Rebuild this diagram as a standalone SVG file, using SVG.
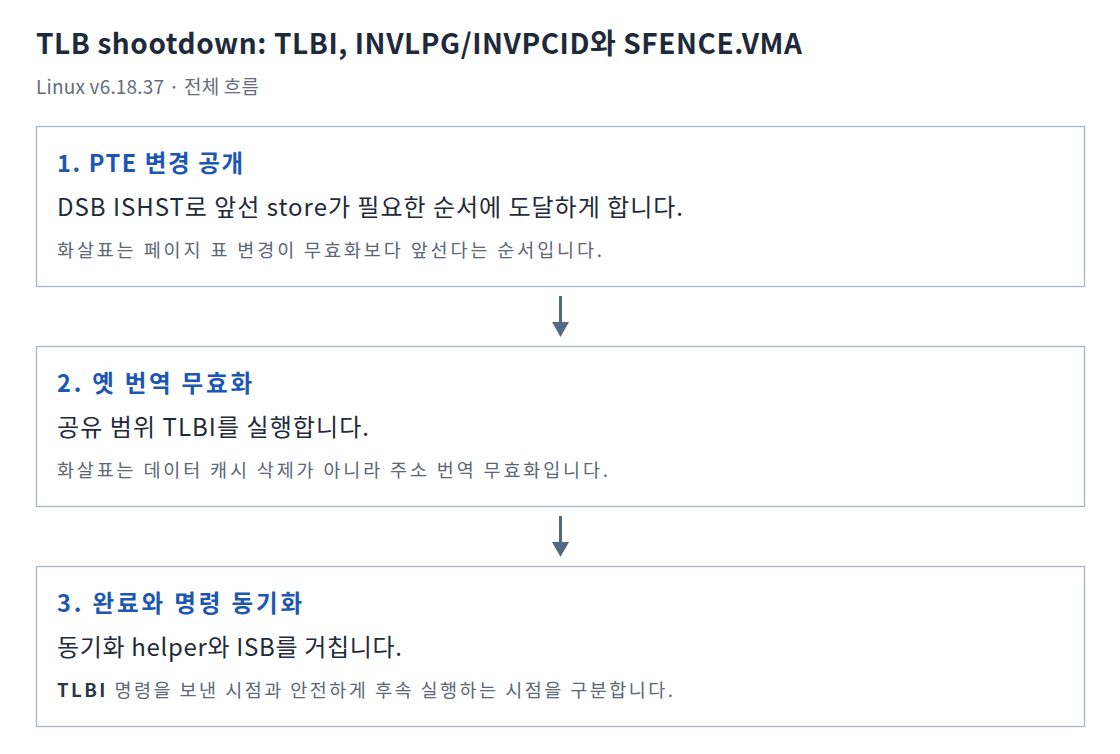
<svg xmlns="http://www.w3.org/2000/svg" width="1120" height="754" viewBox="0 0 1120 754">
<style>
text{font-family:"Noto Sans CJK KR","Noto Sans",sans-serif}
.title{font-size:28px;font-weight:700;fill:#1e2a3b}
.sub{font-size:19px;fill:#646d79}
.box{fill:#ffffff;stroke:#a8b4c4;stroke-width:1.3}
.h{font-size:23.5px;font-weight:700;fill:#1b57b3}
.m{font-size:24px;fill:#1f2a3a}
.n{font-size:18.5px;fill:#5d6674}
.k{fill:#2a3545;font-weight:600}
.c{stroke:#536a85;stroke-width:3;fill:none}
.ah{fill:#536a85}
</style>
<rect width="1120" height="754" fill="#ffffff"/>
<text class="title" x="36" y="53.5" textLength="766" lengthAdjust="spacing">TLB shootdown: TLBI, INVLPG/INVPCID와 SFENCE.VMA</text>
<text class="sub" x="36" y="94" textLength="223" lengthAdjust="spacing">Linux v6.18.37 · 전체 흐름</text>
<g id="node1">
<rect class="box" x="36.5" y="126.5" width="1048" height="160"/>
<text class="h" x="57" y="172" textLength="186" lengthAdjust="spacing">1. PTE 변경 공개</text>
<text class="m" x="57" y="215.5" textLength="626" lengthAdjust="spacing">DSB ISHST로 앞선 store가 필요한 순서에 도달하게 합니다.</text>
<text class="n" x="57" y="257" textLength="545" lengthAdjust="spacing">화살표는 페이지 표 변경이 무효화보다 앞선다는 순서입니다.</text>
</g>
<g id="node2">
<rect class="box" x="36.5" y="346.5" width="1048" height="160"/>
<text class="h" x="57" y="392" textLength="195" lengthAdjust="spacing">2. 옛 번역 무효화</text>
<text class="m" x="57" y="435.5" textLength="312" lengthAdjust="spacing">공유 범위 TLBI를 실행합니다.</text>
<text class="n" x="57" y="477" textLength="551" lengthAdjust="spacing">화살표는 데이터 캐시 삭제가 아니라 주소 번역 무효화입니다.</text>
</g>
<g id="node3">
<rect class="box" x="36.5" y="566.5" width="1048" height="160"/>
<text class="h" x="57" y="612" textLength="245" lengthAdjust="spacing">3. 완료와 명령 동기화</text>
<text class="m" x="57" y="655.5" textLength="345" lengthAdjust="spacing">동기화 helper와 ISB를 거칩니다.</text>
<text class="n" x="57" y="697" textLength="616" lengthAdjust="spacing"><tspan class="k">TLBI</tspan> 명령을 보낸 시점과 안전하게 후속 실행하는 시점을 구분합니다.</text>
</g>
<g id="connectors">
<line class="c" x1="560.5" y1="296" x2="560.5" y2="323"/>
<polygon class="ah" points="552,322 569,322 560.5,337"/>
<line class="c" x1="560.5" y1="516" x2="560.5" y2="543"/>
<polygon class="ah" points="552,542 569,542 560.5,557"/>
</g>
</svg>
